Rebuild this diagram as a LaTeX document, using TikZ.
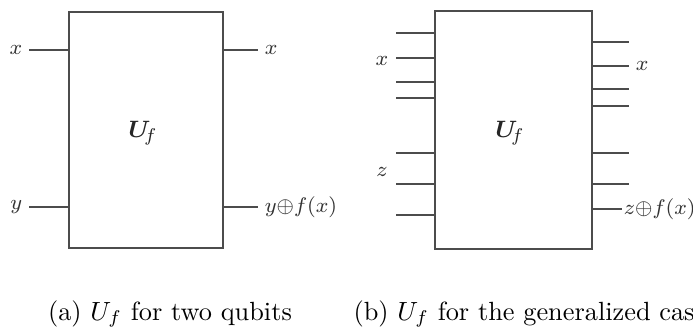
\documentclass[tikz,border=0pt]{standalone}
\usepackage{amsmath,amssymb,bm}
\begin{document}
\begin{tikzpicture}[x=0.38pt,y=-0.38pt,
  wire/.style={draw=black!70,line width=0.75pt},
  gate/.style={draw=black!70,line width=0.8pt,fill=white,inner sep=0pt,anchor=north west},
  lbl/.style={font=\fontsize{8.5}{10}\selectfont,text=black!80,inner sep=1pt},
  biglbl/.style={font=\fontsize{9.5}{11}\selectfont,text=black!85,inner sep=1pt},
  captext/.style={font=\normalsize,anchor=base,inner sep=0pt}]
\useasboundingbox (0,0) rectangle (693,326);
% ---- (a)
\node[gate,minimum width=154*0.38pt,minimum height=236*0.38pt] (A) at (68,11) {};
\node[biglbl] at (143,133) (UA) {$\bm{U}_{\!f}$};
\coordinate (ai1) at (29,50); \coordinate (ai2) at (29,207);
\coordinate (ao1) at (258,50); \coordinate (ao2) at (258,207);
\draw[wire] (ai1) -- (A.west |- ai1);
\draw[wire] (ai2) -- (A.west |- ai2);
\draw[wire] (A.east |- ao1) -- (ao1);
\draw[wire] (A.east |- ao2) -- (ao2);
\node[lbl,anchor=east] (lx) at (ai1) {$x$\,};
\node[lbl,anchor=east] (ly) at (ai2) {$y$\,};
\node[lbl,anchor=west] (rx) at (ao1) {\,$x$};
\node[lbl,anchor=west] (ry) at (ao2) {\,$y{\oplus}f(x)$};
\node[captext] (capA) at (170,320) {(a) $U_f$ for two qubits};
% ---- (b)
\node[gate,minimum width=157*0.38pt,minimum height=238*0.38pt] (B) at (434,10) {};
\node[biglbl] at (510,133) (UB) {$\bm{U}_{\!f}$};
\foreach \i/\y in {1/33,2/58,3/82,4/98,5/153,6/184,7/215}{
  \coordinate (bi\i) at (396,\y);
  \draw[wire] (bi\i) -- (B.west |- bi\i);
}
\foreach \i/\y/\e in {1/42/629,2/66/629,3/89/629,4/106/629,5/153/629,6/184/629,7/209/622}{
  \coordinate (bo\i) at (\e,\y);
  \draw[wire] (B.east |- bo\i) -- (bo\i);
}
\node[lbl] (bx) at (382,61) {$x$};
\node[lbl] (bz) at (382,172) {$z$};
\node[lbl,anchor=west] (brx) at (bo2) {\,$x$};
\node[lbl,anchor=west,inner sep=0.5pt] (brz) at (bo7) {$z{\oplus}f(x)$};
\node[captext,anchor=base west] (capB) at (353,320) {(b) $U_f$ for the generalized case};
\end{tikzpicture}
\end{document}
